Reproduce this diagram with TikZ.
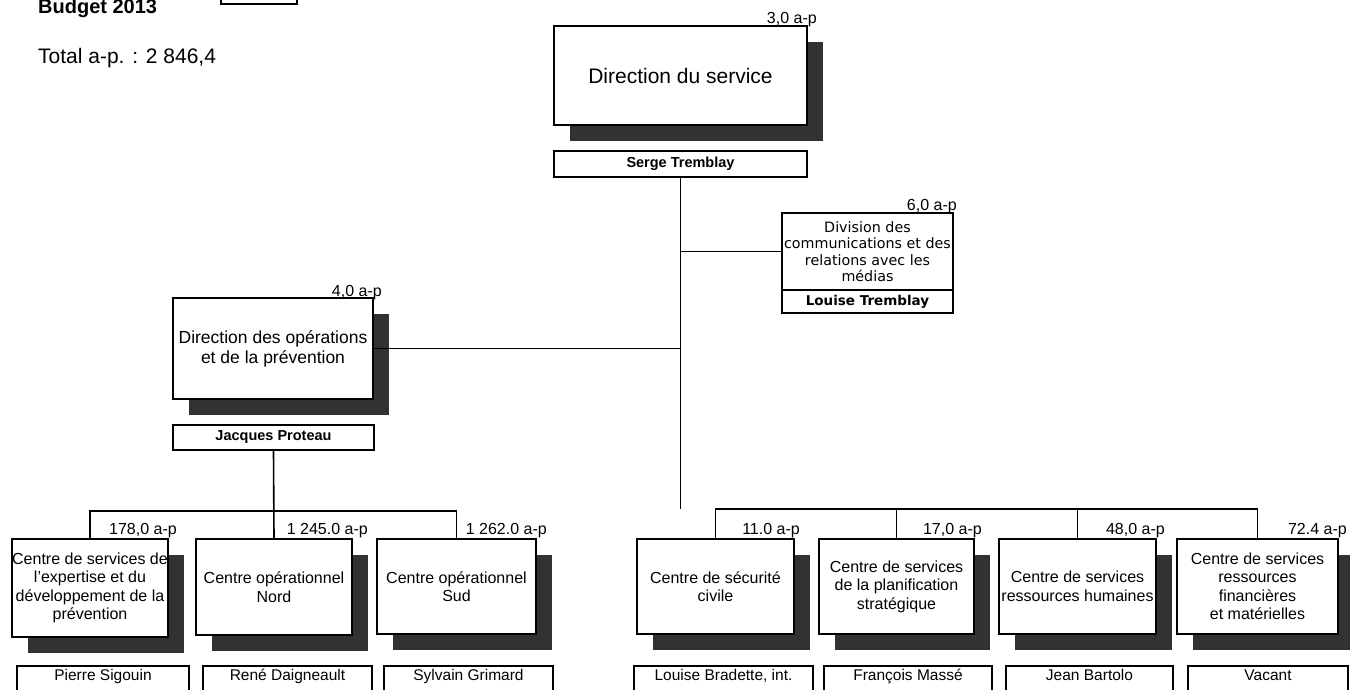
\documentclass[tikz,border=0pt]{standalone}
\usepackage{fontspec}
\setmainfont{Liberation Sans}
\newfontfamily\divfont{DejaVu Sans}
\usetikzlibrary{shadows}
\newcommand{\myfs}[2]{\fontsize{#1}{#2}\selectfont}
\definecolor{shd}{RGB}{50,50,50}
\tikzset{
  box/.style={draw, line width=1.6pt, fill=white, inner sep=0pt, align=center},
  shadowed/.style={drop shadow={shadow xshift=16pt, shadow yshift=-16pt, fill=shd, opacity=1, draw=none}},
  unitbox/.style={box, shadowed, font=\myfs{16}{18.5}},
  namebox/.style={box, font=\myfs{15.5}{18}, text height=11pt, text depth=17pt},
  aplabel/.style={anchor=base east, inner sep=0pt, font=\myfs{16}{18}},
  conn/.style={line width=1.6pt}
}
\begin{document}
\begin{tikzpicture}[x=1pt, y=-1pt]
\useasboundingbox (0,0) rectangle (1350,689);
\clip (0,0) rectangle (1350,689);

% header
\node[anchor=base west, inner sep=0pt, font=\bfseries\myfs{20}{22}] (budget) at (38,13.5) {Budget 2013};
\node[draw, line width=1.6pt, minimum width=76pt, minimum height=20pt, inner sep=0pt] (legend) at (259,-6) {};
\node[anchor=base west, inner sep=0pt, font=\myfs{21}{24}] (total) at (38,63) {Total a-p. : 2 846,4};

% top
\node[box, shadowed, minimum width=253pt, minimum height=99pt, font=\myfs{21}{24}] (dirserv) at (680.5,75.5) {Direction du service};
\node[aplabel] (l0) at (817,23) {3,0 a-p};
\node[box, font=\bfseries\myfs{14.5}{17}, minimum width=253pt, minimum height=26pt] (serge) at (680.5,164) {Serge Tremblay};

% division communications
\node[box, minimum width=171pt, minimum height=77pt, font=\divfont\myfs{14.3}{16.5}] (divcom) at (867.5,251.5) {Division des\\communications et des\\relations avec les\\médias};
\node[box, minimum width=171pt, minimum height=23pt, font=\divfont\bfseries\myfs{13.5}{16}] (divname) at (867.5,301.5) {Louise Tremblay};
\node[aplabel] (l6) at (957,210) {6,0 a-p};

% direction des opérations
\node[box, shadowed, minimum width=200pt, minimum height=101pt, font=\myfs{17.5}{20}] (dirop) at (273,348.5) {Direction des opérations\\et de la prévention};
\node[aplabel] (l4) at (382,296) {4,0 a-p};
\node[box, font=\bfseries\myfs{14.5}{17}, minimum width=201pt, minimum height=25pt] (jacques) at (273.5,437.5) {Jacques Proteau};

% bottom units
\node[unitbox, minimum width=156pt, minimum height=98pt] (b1) at (90,588) {Centre de services de\\l'expertise et du\\développement de la\\prévention};
\node[unitbox, minimum width=156pt, minimum height=96pt] (b2) at (274,587) {Centre opérationnel\\Nord};
\node[unitbox, minimum width=159pt, minimum height=95pt] (b3) at (456.5,586.5) {Centre opérationnel\\Sud};
\node[unitbox, minimum width=157pt, minimum height=95pt] (b4) at (715.5,586.5) {Centre de sécurité\\civile};
\node[unitbox, minimum width=155pt, minimum height=95pt] (b5) at (896.5,586.5) {Centre de services\\de la planification\\stratégique};
\node[unitbox, minimum width=157pt, minimum height=95pt] (b6) at (1077.5,586.5) {Centre de services\\ressources humaines};
\node[unitbox, minimum width=161pt, minimum height=95pt] (b7) at (1257.5,586.5) {Centre de services\\ressources\\financières\\ et matérielles};

\node[aplabel] (lb1) at (177,534) {178,0 a-p};
\node[aplabel] (lb2) at (368,534) {1 245.0 a-p};
\node[aplabel] (lb3) at (547,534) {1 262.0 a-p};
\node[aplabel] (lb4) at (800,534) {11.0 a-p};
\node[aplabel] (lb5) at (982,534) {17,0 a-p};
\node[aplabel] (lb6) at (1165,534) {48,0 a-p};
\node[aplabel] (lb7) at (1347,534) {72.4 a-p};

% names (cut off at the bottom edge, as in the source)
\node[namebox, minimum width=172pt, minimum height=36pt, anchor=north] (n1) at (103,665) {Pierre Sigouin};
\node[namebox, minimum width=169pt, minimum height=36pt, anchor=north] (n2) at (287.5,665) {René Daigneault};
\node[namebox, minimum width=169pt, minimum height=36pt, anchor=north] (n3) at (468.5,665) {Sylvain Grimard};
\node[namebox, minimum width=179pt, minimum height=36pt, anchor=north] (n4) at (723.5,665) {Louise Bradette, int.};
\node[namebox, minimum width=168pt, minimum height=36pt, anchor=north] (n5) at (908,665) {François Massé};
\node[namebox, minimum width=167pt, minimum height=36pt, anchor=north] (n6) at (1089.5,665) {Jean Bartolo};
\node[namebox, minimum width=160pt, minimum height=36pt, anchor=north] (n7) at (1268,665) {Vacant};

% connectors
\coordinate (rbus) at (681.5,509);
\coordinate (lbus) at (273.5,511);
\draw[conn] (serge.south) -- (serge.south |- rbus);
\draw[conn] (divcom.west) -- (divcom.west -| serge.south);
\draw[conn] (dirop.east) -- (dirop.east -| serge.south);
\draw[conn] (b4.north) |- (b7.north |- rbus) -- (b7.north);
\draw[conn] (b5.north) -- (b5.north |- rbus);
\draw[conn] (b6.north) -- (b6.north |- rbus);
\draw[conn] (jacques.south) -- (b2.north);
\draw[conn] (b1.north) |- (b3.north |- lbus) -- (b3.north);
\end{tikzpicture}
\end{document}
